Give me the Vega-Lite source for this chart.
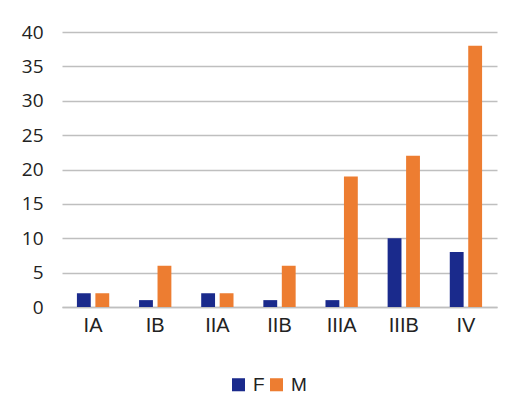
{
  "$schema": "https://vega.github.io/schema/vega-lite/v6.json",
  "width": 435,
  "height": 275,
  "autosize": {"type": "none"},
  "padding": {"left": 62, "top": 32, "right": 14, "bottom": 92},
  "background": "white",
  "data": {
    "values": [
      {"stage": "IA", "sex": "F", "count": 2},
      {"stage": "IA", "sex": "M", "count": 2},
      {"stage": "IB", "sex": "F", "count": 1},
      {"stage": "IB", "sex": "M", "count": 6},
      {"stage": "IIA", "sex": "F", "count": 2},
      {"stage": "IIA", "sex": "M", "count": 2},
      {"stage": "IIB", "sex": "F", "count": 1},
      {"stage": "IIB", "sex": "M", "count": 6},
      {"stage": "IIIA", "sex": "F", "count": 1},
      {"stage": "IIIA", "sex": "M", "count": 19},
      {"stage": "IIIB", "sex": "F", "count": 10},
      {"stage": "IIIB", "sex": "M", "count": 22},
      {"stage": "IV", "sex": "F", "count": 8},
      {"stage": "IV", "sex": "M", "count": 38}
    ]
  },
  "mark": {"type": "bar"},
  "encoding": {
    "x": {
      "field": "stage",
      "type": "nominal",
      "sort": null,
      "scale": {"paddingInner": 0.48, "paddingOuter": 0.24},
      "axis": {
        "title": null,
        "labelAngle": 0,
        "labelFont": "Liberation Sans",
        "labelFontSize": 20,
        "labelColor": "#222222",
        "labelPadding": 8,
        "ticks": false,
        "domainColor": "#bfbfbf",
        "domainWidth": 1.5,
        "grid": false
      }
    },
    "xOffset": {
      "field": "sex",
      "type": "nominal",
      "scale": {"paddingInner": 0.25}
    },
    "y": {
      "field": "count",
      "type": "quantitative",
      "scale": {"domain": [0, 40], "nice": false},
      "axis": {
        "title": null,
        "values": [0, 5, 10, 15, 20, 25, 30, 35, 40],
        "labelFont": "Open Sans",
        "labelFontSize": 19,
        "labelColor": "#222222",
        "labelPadding": 19,
        "ticks": false,
        "domain": false,
        "gridColor": "#bfbfbf",
        "gridWidth": 1.5
      }
    },
    "color": {
      "field": "sex",
      "type": "nominal",
      "scale": {"domain": ["F", "M"], "range": ["#1a2a8c", "#ed7d31"]},
      "legend": {
        "title": null,
        "orient": "none",
        "legendX": 167,
        "legendY": 343,
        "direction": "horizontal",
        "symbolType": "square",
        "symbolSize": 170,
        "symbolStrokeWidth": 0,
        "labelFont": "Liberation Sans",
        "labelFontSize": 19,
        "labelColor": "#222222",
        "columnPadding": 2,
        "labelOffset": 5
      }
    }
  },
  "config": {"view": {"stroke": null}}
}
